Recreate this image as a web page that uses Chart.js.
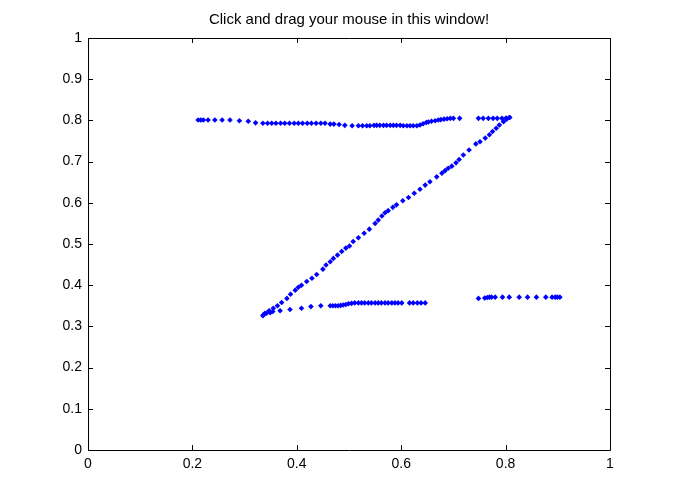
<!DOCTYPE html>
<html>
<head>
<meta charset="utf-8">
<script src="https://cdn.jsdelivr.net/npm/chart.js@4.4.1/dist/chart.umd.min.js"></script>
<style>
  html, body { margin: 0; padding: 0; background: #fff; }
  canvas { display: block; }
</style>
</head>
<body>
<canvas id="mainChart" width="673" height="504"></canvas>
<script>
const titleText = "Click and drag your mouse in this window!";

// top stroke, left to right
const topX = [0.211, 0.216, 0.221, 0.230, 0.243, 0.257, 0.272, 0.290, 0.307, 0.321,
              0.335, 0.344, 0.352, 0.360, 0.369, 0.377, 0.386, 0.395, 0.403, 0.411,
              0.420, 0.428, 0.437, 0.446, 0.454, 0.464, 0.471, 0.481, 0.492, 0.506,
              0.518, 0.526, 0.534, 0.540, 0.548, 0.553, 0.559, 0.566, 0.572, 0.579,
              0.585, 0.591, 0.598, 0.604, 0.611, 0.617, 0.623, 0.630, 0.636, 0.642,
              0.648, 0.652, 0.658, 0.665, 0.671, 0.676, 0.682, 0.688, 0.694, 0.700,
              0.712, 0.748, 0.757, 0.767, 0.776, 0.784, 0.793, 0.801, 0.807];
const topY = [0.801, 0.801, 0.801, 0.801, 0.801, 0.801, 0.801, 0.799, 0.798, 0.794,
              0.793, 0.793, 0.793, 0.793, 0.793, 0.793, 0.793, 0.793, 0.793, 0.793,
              0.793, 0.793, 0.793, 0.793, 0.793, 0.791, 0.791, 0.790, 0.788, 0.787,
              0.787, 0.787, 0.787, 0.787, 0.788, 0.788, 0.788, 0.788, 0.788, 0.788,
              0.788, 0.788, 0.788, 0.787, 0.787, 0.787, 0.787, 0.787, 0.789, 0.792,
              0.795, 0.796, 0.798, 0.799, 0.801, 0.802, 0.803, 0.804, 0.805, 0.805,
              0.805, 0.805, 0.805, 0.805, 0.805, 0.805, 0.805, 0.806, 0.807];

// diagonal, top right down to bottom left
const diagX = [0.808, 0.802, 0.796, 0.788, 0.782, 0.775, 0.769, 0.761, 0.751, 0.743,
               0.730, 0.719, 0.711, 0.705, 0.697, 0.690, 0.684, 0.678, 0.668, 0.655,
               0.646, 0.636, 0.625, 0.614, 0.603, 0.591, 0.584, 0.575, 0.569, 0.563,
               0.556, 0.550, 0.539, 0.529, 0.518, 0.508, 0.501, 0.494, 0.486, 0.478,
               0.470, 0.464, 0.456, 0.450, 0.438, 0.429, 0.419, 0.409, 0.403, 0.397,
               0.388, 0.381, 0.371, 0.363, 0.355, 0.347, 0.339, 0.335];
const diagY = [0.807, 0.803, 0.797, 0.789, 0.781, 0.773, 0.765, 0.757, 0.748, 0.743,
               0.728, 0.716, 0.705, 0.697, 0.689, 0.684, 0.678, 0.672, 0.663, 0.651,
               0.643, 0.633, 0.623, 0.613, 0.605, 0.595, 0.589, 0.581, 0.576, 0.568,
               0.558, 0.550, 0.536, 0.526, 0.515, 0.506, 0.495, 0.490, 0.482, 0.473,
               0.465, 0.457, 0.449, 0.439, 0.426, 0.417, 0.409, 0.400, 0.395, 0.388,
               0.378, 0.368, 0.358, 0.350, 0.344, 0.338, 0.332, 0.326];

// bottom stroke, left to right
const botX = [0.336, 0.342, 0.349, 0.354, 0.368, 0.387, 0.409, 0.427, 0.446, 0.464,
              0.469, 0.474, 0.479, 0.484, 0.489, 0.494, 0.499, 0.505, 0.511, 0.518,
              0.524, 0.530, 0.537, 0.543, 0.550, 0.556, 0.562, 0.569, 0.575, 0.582,
              0.588, 0.594, 0.601, 0.616, 0.623, 0.631, 0.638, 0.646];
const botY = [0.328, 0.332, 0.333, 0.336, 0.338, 0.341, 0.344, 0.348, 0.350, 0.350,
              0.350, 0.350, 0.350, 0.351, 0.352, 0.353, 0.355, 0.356, 0.357, 0.357,
              0.357, 0.357, 0.357, 0.357, 0.357, 0.357, 0.357, 0.357, 0.357, 0.357,
              0.357, 0.357, 0.357, 0.357, 0.357, 0.357, 0.357, 0.357];

// short piece on the right
const rightX = [0.748, 0.760, 0.765, 0.769, 0.773, 0.780, 0.794, 0.807, 0.826, 0.842,
                0.859, 0.877, 0.889, 0.895, 0.899, 0.904];
const rightY = [0.368, 0.369, 0.370, 0.371, 0.371, 0.371, 0.371, 0.371, 0.371, 0.371,
                0.371, 0.371, 0.371, 0.371, 0.371, 0.371];

const xTicks = [0, 0.2, 0.4, 0.6, 0.8, 1];
const yTicks = [0, 0.1, 0.2, 0.3, 0.4, 0.5, 0.6, 0.7, 0.8, 0.9, 1];

const pts = (xs, ys) => xs.map((x, i) => ({ x: x, y: ys[i] }));
const allPoints = [].concat(pts(topX, topY), pts(diagX, diagY), pts(botX, botY), pts(rightX, rightY));

const fmt = v => String(Number(v.toFixed(1)));

// box, inward ticks and the title, matlab style
const axesBox = {
    id: 'axesBox',
    afterDraw(c) {
        const ctx = c.ctx, a = c.chartArea;
        const xs = c.scales.x, ys = c.scales.y;
        ctx.save();
        ctx.strokeStyle = '#000';
        ctx.lineWidth = 1;
        ctx.beginPath();
        ctx.rect(Math.round(a.left) + 0.5, Math.round(a.top) + 0.5,
                 Math.round(a.right - a.left), Math.round(a.bottom - a.top));
        xTicks.forEach(v => {
            const px = Math.round(xs.getPixelForValue(v)) + 0.5;
            ctx.moveTo(px, a.bottom); ctx.lineTo(px, a.bottom - 5);
            ctx.moveTo(px, a.top); ctx.lineTo(px, a.top + 5);
        });
        yTicks.forEach(v => {
            const py = Math.round(ys.getPixelForValue(v)) + 0.5;
            ctx.moveTo(a.left, py); ctx.lineTo(a.left + 5, py);
            ctx.moveTo(a.right, py); ctx.lineTo(a.right - 5, py);
        });
        ctx.stroke();
        ctx.fillStyle = '#000';
        ctx.font = '15px "Liberation Sans", Arial, sans-serif';
        ctx.textAlign = 'center';
        ctx.textBaseline = 'middle';
        ctx.fillText(titleText, (a.left + a.right) / 2, 20);
        ctx.restore();
    }
};

new Chart(document.getElementById('mainChart').getContext('2d'), {
    type: 'scatter',
    data: {
        datasets: [{
            data: allPoints,
            showLine: false,
            pointStyle: 'rectRot',
            pointRadius: 2.8,
            pointBorderWidth: 0,
            backgroundColor: '#0000ff',
            borderColor: '#0000ff'
        }]
    },
    options: {
        responsive: false,
        animation: false,
        events: [],
        layout: { padding: { left: 0, top: 38, right: 63, bottom: 0 } },
        plugins: { legend: { display: false }, tooltip: { enabled: false } },
        scales: {
            x: {
                type: 'linear', min: 0, max: 1,
                afterFit: s => { s.height = 54; },
                afterBuildTicks: s => { s.ticks = xTicks.map(v => ({ value: v })); },
                grid: { display: false, drawTicks: false },
                border: { display: false },
                ticks: { callback: fmt, padding: 6, color: '#000', maxRotation: 0,
                         font: { family: '"Liberation Sans", Arial, sans-serif', size: 14 } }
            },
            y: {
                type: 'linear', min: 0, max: 1,
                afterFit: s => { s.width = 88; },
                afterBuildTicks: s => { s.ticks = yTicks.map(v => ({ value: v })); },
                grid: { display: false, drawTicks: false },
                border: { display: false },
                ticks: { callback: fmt, padding: 6, color: '#000',
                         font: { family: '"Liberation Sans", Arial, sans-serif', size: 14 } }
            }
        }
    },
    plugins: [axesBox]
});
</script>
</body>
</html>
